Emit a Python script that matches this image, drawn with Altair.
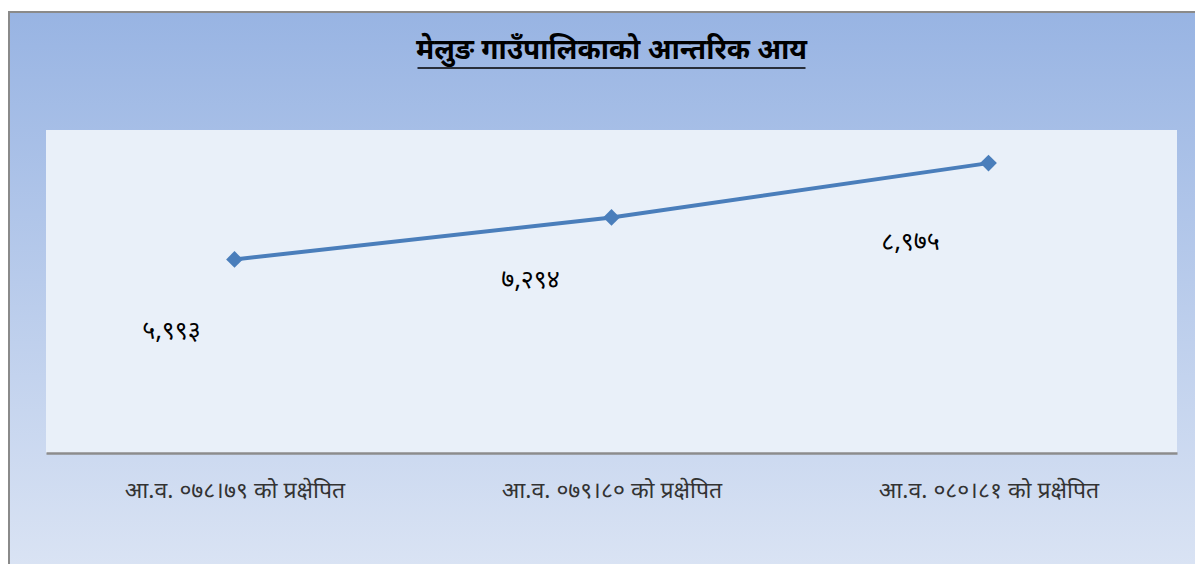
import altair as alt
import pandas as pd

categories = [
    "आ.व. ०७८।७९ को प्रक्षेपित",
    "आ.व. ०७९।८० को प्रक्षेपित",
    "आ.व. ०८०।८१ को प्रक्षेपित",
]
values = [5993, 7294, 8975]
labels = ["५,९९३", "७,२९४", "८,९७५"]
label_dx = [-63, -81, -78]
label_dy = [72, 63, 79]
title_text = "मेलुङ गाउँपालिकाको आन्तरिक आय"

df = pd.DataFrame({"cat": categories, "value": values, "label": labels})

W, H = 1131, 323
FONT = "Noto Sans Devanagari, Noto Sans, sans-serif"

one = alt.Chart(pd.DataFrame({"k": [0]}))

bg = one.mark_rect(
    fill=alt.LinearGradient(
        gradient="linear", x1=0, y1=0, x2=0, y2=1,
        stops=[alt.GradientStop(color="#98B4E3", offset=0),
               alt.GradientStop(color="#DFE7F5", offset=1)],
    ),
    stroke="#8A8A8A", strokeWidth=2,
).encode(x=alt.value(-37), x2=alt.value(W + 60), y=alt.value(-118), y2=alt.value(H + 160))

plotbg = one.mark_rect(fill="#E9F0F9").encode(
    x=alt.value(0), x2=alt.value(W), y=alt.value(0), y2=alt.value(H)
)

title = one.mark_text(
    text=title_text, font=FONT, fontSize=28, fontWeight="bold", color="#000000",
    align="center", baseline="middle",
).encode(x=alt.value(W / 2), y=alt.value(-79))

underline = one.mark_rule(color="#000000", strokeWidth=1.5).encode(
    x=alt.value(W / 2 - 194), x2=alt.value(W / 2 + 194), y=alt.value(-62)
)

xenc = alt.X(
    "cat:N", sort=categories, title=None,
    axis=alt.Axis(
        labelAngle=0, labelFont=FONT, labelFontSize=23, labelColor="#333333",
        labelPadding=26, ticks=False, domainColor="#8C8C8C", domainWidth=2.5,
        grid=False, labelLimit=400, zindex=2,
    ),
)
yenc = alt.Y("value:Q", scale=alt.Scale(domain=[0, 10000], nice=False), axis=None)

base = alt.Chart(df)
line = base.mark_line(color="#4A7EBB", strokeWidth=4).encode(x=xenc, y=yenc)
pts = base.mark_point(
    shape="diamond", size=280, filled=True, color="#4A7EBB", opacity=1
).encode(x=xenc, y=yenc)

texts = []
for lab, dx, dy in zip(labels, label_dx, label_dy):
    texts.append(
        base.transform_filter(alt.datum.label == lab)
        .mark_text(font=FONT, fontSize=25, color="#000000", dx=dx, dy=dy,
                   align="center", baseline="middle")
        .encode(x=xenc, y=yenc, text="label:N")
    )

chart = alt.layer(bg, plotbg, title, underline, line, pts, *texts).properties(
    width=W, height=H,
    autosize=alt.AutoSizeParams(type="none"),
    padding={"left": 38, "top": 122, "right": 18, "bottom": 111},
).configure_view(stroke=None).configure(background="#FFFFFF")

chart.save("out.html", embed_options={"renderer": "svg", "actions": False})
